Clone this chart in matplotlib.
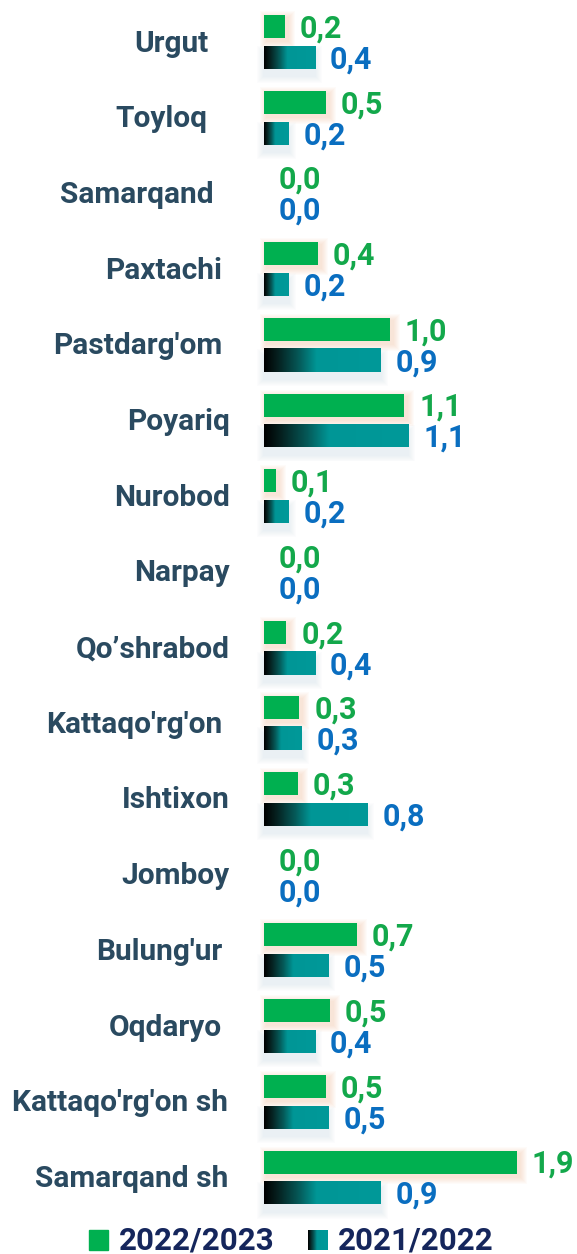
import matplotlib
matplotlib.use("Agg")
import matplotlib.pyplot as plt
import numpy as np
from matplotlib.colors import LinearSegmentedColormap
from matplotlib.patches import Rectangle
from matplotlib.transforms import offset_copy

# data
districts = ["Urgut", "Toyloq", "Samarqand", "Paxtachi", "Pastdarg'om", "Poyariq",
             "Nurobod", "Narpay", "Qo\u2019shrabod", "Kattaqo'rg'on", "Ishtixon",
             "Jomboy", "Bulung'ur", "Oqdaryo", "Kattaqo'rg'on sh", "Samarqand sh"]
vals_2023 = [0.16, 0.47, 0.0, 0.41, 0.96, 1.07, 0.09, 0.0, 0.17, 0.27, 0.26,
             0.0, 0.71, 0.50, 0.47, 1.93]
vals_2022 = [0.39, 0.19, 0.0, 0.19, 0.89, 1.10, 0.19, 0.0, 0.39, 0.29, 0.79,
             0.0, 0.49, 0.39, 0.49, 0.89]
series_names = ["2022/2023", "2021/2022"]

# layout (pixels)
W, H = 577, 1254
X0 = 264          # where bars start
PX_X = 131.0      # pixels per unit
PX_Y = 75.7       # pixels per category
TOP = 42          # centre of first group
# how far left of the bars each name ends
name_gap = [56, 57, 50, 42, 42, 34, 34, 34, 34, 42, 34, 34, 42, 42, 36, 36]

GREEN = "#00b050"
GREEN_TXT = "#13a84b"
BLUE_TXT = "#0a6ec0"
NAME_CLR = "#2a4a60"
LEG_CLR = "#15265c"
FONT = ["Roboto", "DejaVu Sans"]

teal_cmap = LinearSegmentedColormap.from_list(
    "teal", [(0, "#000000"), (0.12, "#062120"), (0.3, "#055a59"),
             (0.45, "#009696"), (1, "#009999")])
grad = np.linspace(0, 1, 256).reshape(1, -1)

fig = plt.figure(figsize=(W / 100, H / 100), dpi=100)
ax = fig.add_axes([0, 0, 1, 1])
ax.axis("off")

bar_h = 23 / PX_Y
off = 15.5 / PX_Y
px = 1 / PX_X
py = 1 / PX_Y

y = np.arange(len(districts))


def glow(x0, yc, w, color, dx, dy, n, a):
    # soft shadow made of stacked, growing rectangles
    for k in range(n, 0, -1):
        ax.add_patch(Rectangle((x0 + dx * px - k * px, yc - bar_h / 2 + dy * py - k * py),
                               w + 2 * k * px, bar_h + 2 * k * py,
                               color=color, alpha=a, lw=0, zorder=1))


for i, name in enumerate(districts):
    yc = y[i]
    # district name
    tr = offset_copy(ax.transData, fig=fig, x=-name_gap[i], y=-9.5, units="dots")
    ax.text(0, yc, name, transform=tr, ha="right", va="baseline",
            fontsize=21.5, fontweight="bold", color=NAME_CLR, family=FONT)

    # green bar + warm glow
    v = vals_2023[i]
    yg = yc - off
    if v > 0:
        glow(0, yg, v, "#f6a676", 3, 3, 7, 0.045)
        ax.barh(yg, v, height=bar_h, color=GREEN, zorder=3)
    tr = offset_copy(ax.transData, fig=fig, x=15, y=-11, units="dots")
    ax.text(v, yg, f"{v:.1f}".replace(".", ","), transform=tr, ha="left",
            va="baseline", fontsize=22, fontweight="bold", color=GREEN_TXT, family=FONT)

    # teal gradient bar + cool shadow
    v = vals_2022[i]
    yt = yc + off
    if v > 0:
        glow(0, yt, v, "#b4c6dc", 0, 7, 7, 0.035)
        ax.imshow(grad, cmap=teal_cmap, aspect="auto", interpolation="bilinear",
                  extent=(0, v, yt + bar_h / 2, yt - bar_h / 2), zorder=3)
    tr = offset_copy(ax.transData, fig=fig, x=15, y=-11, units="dots")
    ax.text(v, yt, f"{v:.1f}".replace(".", ","), transform=tr, ha="left",
            va="baseline", fontsize=22, fontweight="bold", color=BLUE_TXT, family=FONT)

ax.set_xlim(-X0 / PX_X, (W - X0) / PX_X)
ax.set_ylim(15 + (H - (TOP + 15 * PX_Y)) / PX_Y, -TOP / PX_Y)

# legend
fig.patches.append(Rectangle((89 / W, 1 - 1250 / H), 19 / W, 20 / H,
                             color=GREEN, transform=fig.transFigure, figure=fig))
fig.text(119 / W, 1 - 1249 / H, series_names[0], ha="left", va="baseline",
         fontsize=22.5, fontweight="bold", color=LEG_CLR, family=FONT)
lax = fig.add_axes([308 / W, 1 - 1250 / H, 19 / W, 20 / H])
lax.imshow(grad, cmap=teal_cmap, aspect="auto", interpolation="bilinear")
lax.axis("off")
fig.text(338 / W, 1 - 1249 / H, series_names[1], ha="left", va="baseline",
         fontsize=22.5, fontweight="bold", color=LEG_CLR, family=FONT)

fig.savefig("out.png", dpi=100, facecolor="white")
